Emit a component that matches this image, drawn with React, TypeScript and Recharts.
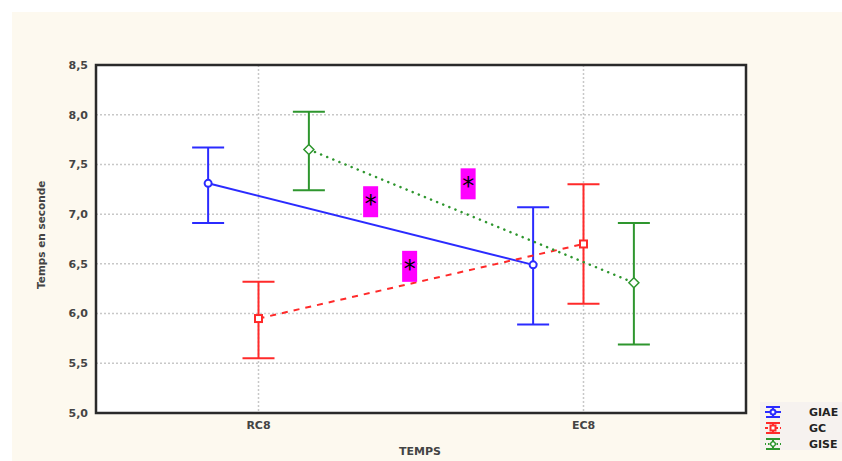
import { LineChart, Line, XAxis, YAxis, CartesianGrid, ErrorBar, ReferenceArea, ReferenceDot } from 'recharts';

// x positions: RC8 = 1, EC8 = 3, groups shifted left/right of each category
const categories = ['RC8', 'EC8'];
const categoryX = [1, 3];
const groupOffset = { GIAE: -0.31, GC: 0, GISE: 0.31 };

const giaeMean = [7.31, 6.49];
const giaeLow = [6.91, 5.89];
const giaeHigh = [7.67, 7.07];

const gcMean = [5.95, 6.7];
const gcLow = [5.55, 6.1];
const gcHigh = [6.32, 7.3];

const giseMean = [7.65, 6.31];
const giseLow = [7.24, 5.69];
const giseHigh = [8.03, 6.91];

const yTicks = [5.0, 5.5, 6.0, 6.5, 7.0, 7.5, 8.0, 8.5];

// significance stars (x, y in data units)
const stars = [
  { x: 1.69, y: 7.13 },
  { x: 2.29, y: 7.31 },
  { x: 1.93, y: 6.48 },
];

const BLUE = '#2b2bff';
const RED = '#ff2a2a';
const GREEN = '#2e962e';

function build(mean: number[], low: number[], high: number[], off: number) {
  return mean.map((m, i) => ({
    x: categoryX[i] + off,
    y: m,
    err: [m - low[i], high[i] - m],
  }));
}

const giaeData = build(giaeMean, giaeLow, giaeHigh, groupOffset.GIAE);
const gcData = build(gcMean, gcLow, gcHigh, groupOffset.GC);
const giseData = build(giseMean, giseLow, giseHigh, groupOffset.GISE);

const CircleDot = (p: any) => (
  <circle cx={p.cx} cy={p.cy} r={3.5} fill="#fff" stroke={BLUE} strokeWidth={2} />
);
const SquareDot = (p: any) => (
  <rect x={p.cx - 3.5} y={p.cy - 3.5} width={7} height={7} fill="#fff" stroke={RED} strokeWidth={2} />
);
const DiamondDot = (p: any) => (
  <path d={`M${p.cx},${p.cy - 5}L${p.cx + 5},${p.cy}L${p.cx},${p.cy + 5}L${p.cx - 5},${p.cy}Z`} fill="#fff" stroke={GREEN} strokeWidth={1.5} />
);

const Star = (p: any) => (
  <g>
    <rect x={p.cx - 7.5} y={p.cy - 15} width={15} height={31} fill="#ff00ff" />
    <text x={p.cx} y={p.cy + 11} textAnchor="middle" fontSize={24} fontFamily="DejaVu Sans" fill="#000">*</text>
  </g>
);

const fmt = (v: number) => v.toFixed(1).replace('.', ',');

function LegendIcon({ y, color, kind }: { y: number; color: string; kind: string }) {
  const cx = 773;
  return (
    <g stroke={color} strokeWidth={2}>
      <line x1={cx - 7} x2={cx + 7} y1={y - 5} y2={y - 5} />
      <line x1={cx - 7} x2={cx + 7} y1={y + 5} y2={y + 5} />
      <line x1={cx} x2={cx} y1={y - 5} y2={y + 5} />
      <line x1={cx - 8} x2={cx + 8} y1={y} y2={y} strokeDasharray={kind === 'GC' ? '3 2' : kind === 'GISE' ? '1 2' : undefined} />
      {kind === 'GIAE' && <circle cx={cx} cy={y} r={2.5} fill="#fff" />}
      {kind === 'GC' && <rect x={cx - 2.5} y={y - 2.5} width={5} height={5} fill="#fff" />}
      {kind === 'GISE' && <path d={`M${cx},${y - 3}L${cx + 3},${y}L${cx},${y + 3}L${cx - 3},${y}Z`} fill="#fff" strokeWidth={1.5} />}
    </g>
  );
}

export default function App() {
  const axisFont = { fontSize: 11, fill: '#444', fontWeight: 700, fontFamily: 'DejaVu Sans' };
  return (
    <div style={{ position: 'relative', width: 842, height: 461, background: '#fff' }}>
      <style>{'body{margin:0}'}</style>
      <div style={{ position: 'absolute', left: 12, top: 12, width: 830, height: 449, background: '#fdf9ef' }} />
      <div style={{ position: 'absolute', left: 0, top: 0 }}>
        <LineChart width={842} height={461} margin={{ top: 65, right: 96, bottom: 28, left: 36 }}>
          <CartesianGrid stroke="#c8c8c8" strokeDasharray="2 2" strokeWidth={1.5} fill="#fff" />
          <XAxis
            type="number"
            dataKey="x"
            domain={[0, 4]}
            ticks={categoryX}
            tickFormatter={(v: number) => categories[categoryX.indexOf(v)] ?? ''}
            axisLine={false}
            tickLine={false}
            tick={axisFont}
            height={20}
            allowDuplicatedCategory={false}
          />
          <YAxis
            type="number"
            domain={[5, 8.5]}
            ticks={yTicks}
            tickFormatter={fmt}
            axisLine={false}
            tickLine={false}
            tick={axisFont}
            width={60}
            label={{ value: 'Temps en seconde', angle: -90, position: 'insideLeft', dx: 0, dy: 50, style: { fontSize: 10.5, fill: '#444', fontWeight: 700, fontFamily: 'DejaVu Sans' } }}
          />
          <ReferenceArea x1={0} x2={4} y1={5} y2={8.5} fill="none" stroke="#2a2a2a" strokeWidth={2.5} />
          <Line data={giaeData} dataKey="y" stroke={BLUE} strokeWidth={2} dot={<CircleDot />} isAnimationActive={false}>
            <ErrorBar dataKey="err" direction="y" width={16} stroke={BLUE} strokeWidth={2} />
          </Line>
          <Line data={gcData} dataKey="y" stroke={RED} strokeWidth={2} strokeDasharray="6 6" dot={<SquareDot />} isAnimationActive={false}>
            <ErrorBar dataKey="err" direction="y" width={16} stroke={RED} strokeWidth={2} />
          </Line>
          <Line data={giseData} dataKey="y" stroke={GREEN} strokeWidth={2.5} strokeDasharray="0.1 6.5" strokeLinecap="round" dot={<DiamondDot />} isAnimationActive={false}>
            <ErrorBar dataKey="err" direction="y" width={16} stroke={GREEN} strokeWidth={2} />
          </Line>
          {stars.map((s, i) => (
            <ReferenceDot key={i} x={s.x} y={s.y} r={0} shape={<Star />} />
          ))}
          <text x={420} y={455} textAnchor="middle" fontSize={11} fontWeight={700} fill="#444" fontFamily="DejaVu Sans">TEMPS</text>
          <rect x={760} y={402} width={82} height={48} fill="#f6f2ef" />
          <LegendIcon y={412} color={BLUE} kind="GIAE" />
          <LegendIcon y={428} color={RED} kind="GC" />
          <LegendIcon y={444} color={GREEN} kind="GISE" />
          <g fontSize={11} fontWeight={700} fill="#222" fontFamily="DejaVu Sans">
            <text x={809} y={416}>GIAE</text>
            <text x={809} y={432}>GC</text>
            <text x={809} y={448}>GISE</text>
          </g>
        </LineChart>
      </div>
    </div>
  );
}
